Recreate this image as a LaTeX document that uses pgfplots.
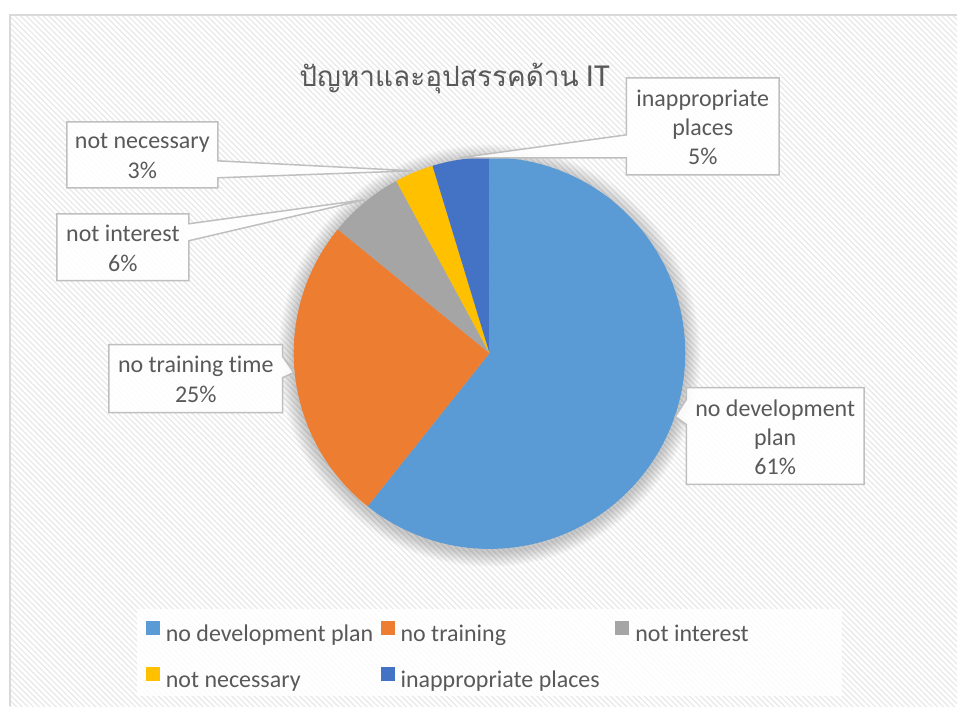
\documentclass[border=0pt]{standalone}
\usepackage{fontspec}
\setmainfont{Carlito}[Ligatures=NoCommon]
\newfontfamily\thaifont[Script=Thai]{Loma}
\usepackage{pgfplots}
\pgfplotsset{compat=1.18}
\usetikzlibrary{patterns.meta}
\definecolor{cA}{HTML}{5B9BD5}
\definecolor{cB}{HTML}{ED7D31}
\definecolor{cC}{HTML}{A5A5A5}
\definecolor{cD}{HTML}{FFC000}
\definecolor{cE}{HTML}{4472C4}
\definecolor{txt}{HTML}{595959}
\definecolor{bord}{HTML}{BFBFBF}
\definecolor{frame}{HTML}{D9D9D9}
% shares of the pie (percent)
\def\vA{60.7}\def\vB{25.2}\def\vC{6.2}\def\vD{3.2}\def\vE{4.7}
\begin{document}
\begin{tikzpicture}
\pgfmathsetmacro\aO{90}
\pgfmathsetmacro\aA{\aO-3.6*\vA}
\pgfmathsetmacro\aB{\aA-3.6*\vB}
\pgfmathsetmacro\aC{\aB-3.6*\vC}
\pgfmathsetmacro\aD{\aC-3.6*\vD}
\pgfmathsetmacro\aE{\aD-3.6*\vE}
\begin{axis}[
  scale only axis, width=479pt, height=353.5pt,
  xmin=0, xmax=958, ymin=0, ymax=707,
  hide axis, clip=false,
  legend columns=3,
  legend style={at={(0.1524,0.1202)}, anchor=north west, draw=none, fill=none,
    inner sep=0pt, outer sep=0pt, row sep=10pt, column sep=0pt,
    font=\fontsize{12}{14}\selectfont, text=txt,
    nodes={inner sep=0pt, text height=8.5pt, text depth=2.5pt}},
  legend image code/.code={\path[#1] (0pt,0.3pt) rectangle (7pt,7.3pt);},
]
% background
\fill[white] (axis cs:0,0) rectangle (axis cs:958,707);
\fill[pattern={Lines[angle=-45,distance=2pt,line width=0.6pt]}, pattern color=gray!18]
  (axis cs:10,0) rectangle (axis cs:958,692);
\draw[frame, line width=1pt] (axis cs:10,0) -- (axis cs:10,692) -- (axis cs:958,692);
% legend backdrop
\fill[white, opacity=0.85] (axis cs:137,10) rectangle (axis cs:843,97);
% soft shadow
\pgfplotsinvokeforeach{1,...,9}{
  \fill[black, opacity=0.022] (axis cs:490,351) circle[radius={98pt+#1*0.85pt}];
}
% pie slices
\addplot[fill=cA, draw=none, domain=\aA:\aO, samples=120, variable=\t]
  ({490+196*cos(\t)}, {353.5+196*sin(\t)}) -- (490,353.5) -- cycle;
\addlegendentry{\hspace{3pt}\makebox[107.5pt][l]{no development plan}}
\addplot[fill=cB, draw=none, domain=\aB:\aA, samples=60, variable=\t]
  ({490+196*cos(\t)}, {353.5+196*sin(\t)}) -- (490,353.5) -- cycle;
\addlegendentry{\hspace{3pt}\makebox[107.5pt][l]{no training}}
\addplot[fill=cC, draw=none, domain=\aC:\aB, samples=20, variable=\t]
  ({490+196*cos(\t)}, {353.5+196*sin(\t)}) -- (490,353.5) -- cycle;
\addlegendentry{\hspace{3pt}\makebox[107.5pt][l]{not interest}}
\addplot[fill=cD, draw=none, domain=\aD:\aC, samples=15, variable=\t]
  ({490+196*cos(\t)}, {353.5+196*sin(\t)}) -- (490,353.5) -- cycle;
\addlegendentry{\hspace{3pt}\makebox[107.5pt][l]{not necessary}}
\addplot[fill=cE, draw=none, domain=\aE:\aD, samples=15, variable=\t]
  ({490+196*cos(\t)}, {353.5+196*sin(\t)}) -- (490,353.5) -- cycle;
\addlegendentry{\hspace{3pt}\makebox[107.5pt][l]{inappropriate places}}
% title
\node[anchor=base, text=txt, inner sep=0pt]
  at (axis cs:455,620) {{\thaifont\fontsize{14}{17}\selectfont ปัญหาและอุปสรรคด้าน}{\fontsize{16}{18}\selectfont\ IT}};
% callouts
\tikzset{callout/.style={fill=white, fill opacity=0.9, draw=bord, line width=0.75pt, line join=miter}}
\filldraw[callout] (axis cs:67,585) -- (axis cs:218,585) -- (axis cs:218,546) -- (axis cs:413,536)
  -- (axis cs:218,529) -- (axis cs:218,519) -- (axis cs:67,519) -- cycle;
\filldraw[callout] (axis cs:57,493) -- (axis cs:189,493) -- (axis cs:189,483) -- (axis cs:365,507)
  -- (axis cs:189,466) -- (axis cs:189,426) -- (axis cs:57,426) -- cycle;
\filldraw[callout] (axis cs:627,629) -- (axis cs:780,629) -- (axis cs:780,532) -- (axis cs:627,532)
  -- (axis cs:627,549) -- (axis cs:460,549) -- (axis cs:627,572) -- cycle;
\filldraw[callout] (axis cs:109,362) -- (axis cs:283,362) -- (axis cs:283,350) -- (axis cs:294,334)
  -- (axis cs:283,329) -- (axis cs:283,294) -- (axis cs:109,294) -- cycle;
\filldraw[callout] (axis cs:687,319) -- (axis cs:865,319) -- (axis cs:865,222) -- (axis cs:687,222)
  -- (axis cs:687,282) -- (axis cs:676,290) -- (axis cs:687,307) -- cycle;
\tikzset{lbl/.style={align=center, text=txt, font=\fontsize{12}{15}\selectfont}}
\node[lbl] at (axis cs:142.5,551) {not necessary\\3\%};
\node[lbl] at (axis cs:123,458.5) {not interest\\6\%};
\node[lbl, font=\fontsize{12}{14.5}\selectfont] at (axis cs:703.5,579.5) {inappropriate\\places\\5\%};
\node[lbl] at (axis cs:196,327) {no training time\\25\%};
\node[lbl, font=\fontsize{12}{14.5}\selectfont] at (axis cs:776,269.5) {no development\\plan\\61\%};
\end{axis}
\end{tikzpicture}
\end{document}
